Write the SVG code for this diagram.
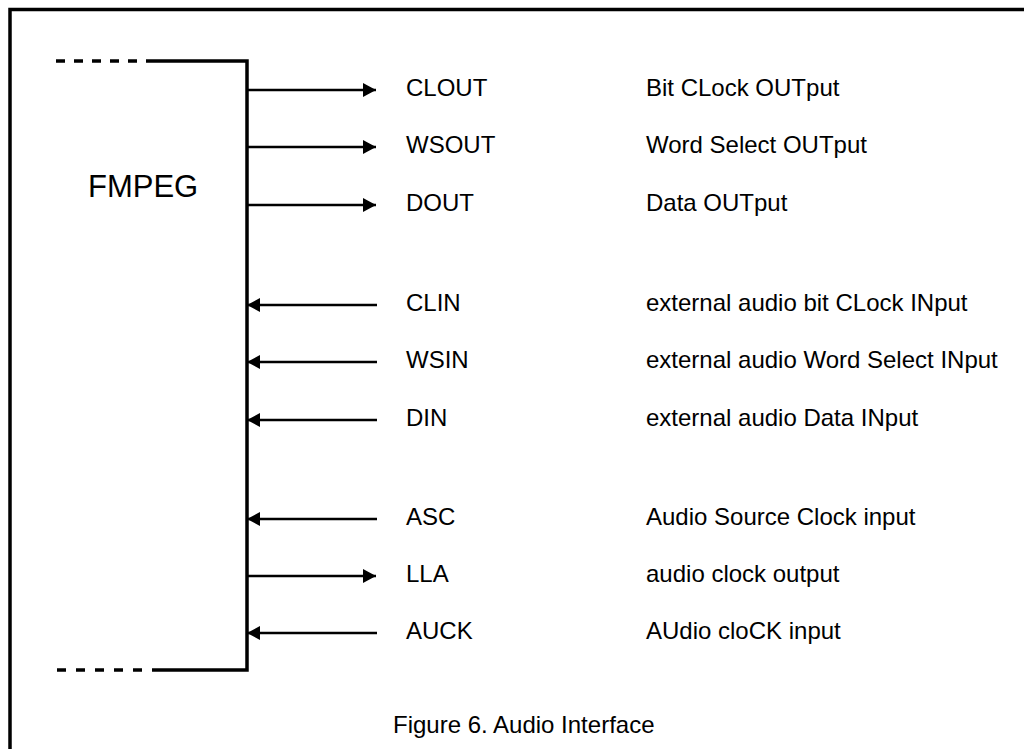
<svg xmlns="http://www.w3.org/2000/svg" width="1024" height="749" viewBox="0 0 1024 749">
<defs>
<marker id="ah" viewBox="0 0 13 14" refX="13" refY="7" markerWidth="13" markerHeight="14" markerUnits="userSpaceOnUse" orient="auto">
<path d="M0,0 L13,7 L0,14 Z" fill="#000"/>
</marker>
<style>
.ln{stroke:#000;stroke-width:3.5;fill:none}
.ar{stroke:#000;stroke-width:2.7;fill:none;marker-end:url(#ah)}
.dash{stroke:#000;stroke-width:3.5;fill:none;stroke-dasharray:9 9}
.dash2{stroke:#000;stroke-width:3.5;fill:none;stroke-dasharray:9 10}
.t{font-family:"Liberation Sans",Arial,sans-serif;font-size:24px;fill:#000}
.big{font-family:"Liberation Sans",Arial,sans-serif;font-size:31px;fill:#000}
</style>
</defs>
<rect width="1024" height="749" fill="#fff"/>
<g id="frame">
<path class="ln" d="M10,749 L10,9.5 L1024,9.5"/>
</g>
<g id="fmpeg">
<path class="ln" d="M146,61 L247,61 L247,670 L152,670"/>
<path class="dash" d="M56,61 L137,61"/>
<path class="dash2" d="M57,670 L143,670"/>
<text class="big" x="88" y="197">FMPEG</text>
</g>
<g id="connectors">
<path class="ar" d="M247,90 L376,90"/>
<path class="ar" d="M247,147 L376,147"/>
<path class="ar" d="M247,205 L376,205"/>
<path class="ar" d="M377,305 L247,305"/>
<path class="ar" d="M377,362 L247,362"/>
<path class="ar" d="M377,420 L247,420"/>
<path class="ar" d="M377,519 L247,519"/>
<path class="ar" d="M247,576 L376,576"/>
<path class="ar" d="M377,633 L247,633"/>
</g>
<g id="labels">
<text class="t" x="406" y="96">CLOUT</text>
<text class="t" x="406" y="153">WSOUT</text>
<text class="t" x="406" y="211">DOUT</text>
<text class="t" x="406" y="311">CLIN</text>
<text class="t" x="406" y="368">WSIN</text>
<text class="t" x="406" y="426">DIN</text>
<text class="t" x="406" y="525">ASC</text>
<text class="t" x="406" y="582">LLA</text>
<text class="t" x="406" y="639">AUCK</text>
<text class="t" x="646" y="96">Bit CLock OUTput</text>
<text class="t" x="646" y="153">Word Select OUTput</text>
<text class="t" x="646" y="211">Data OUTput</text>
<text class="t" x="646" y="311">external audio bit CLock INput</text>
<text class="t" x="646" y="368">external audio Word Select INput</text>
<text class="t" x="646" y="426">external audio Data INput</text>
<text class="t" x="646" y="525">Audio Source Clock input</text>
<text class="t" x="646" y="582">audio clock output</text>
<text class="t" x="646" y="639">AUdio cloCK input</text>
<text class="t" x="393" y="733">Figure 6. Audio Interface</text>
</g>
</svg>
